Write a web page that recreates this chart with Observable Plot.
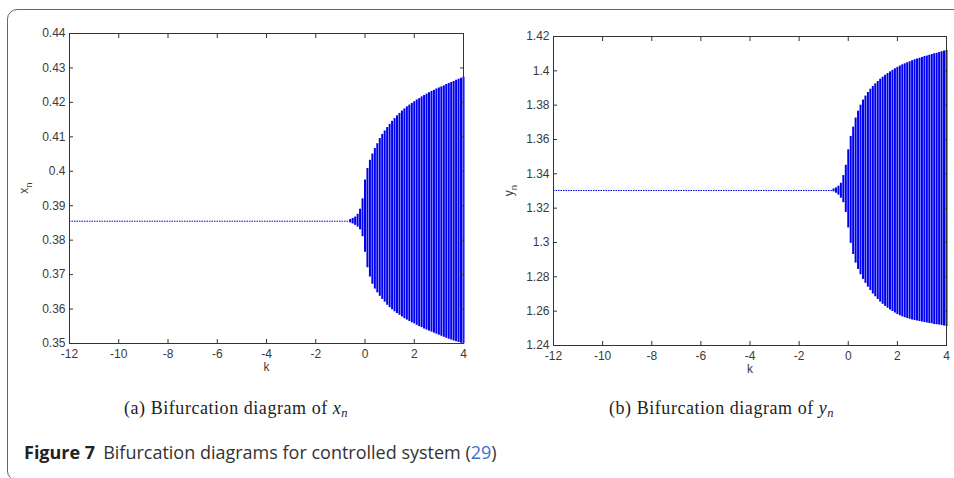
<!DOCTYPE html>
<html>
<head>
<meta charset="utf-8">
<script src="https://cdn.jsdelivr.net/npm/d3@7"></script>
<script src="https://cdn.jsdelivr.net/npm/@observablehq/plot@0.6"></script>
<style>
  html, body { margin: 0; padding: 0; background: #fff; }
  body { width: 954px; height: 478px; position: relative; overflow: hidden; }
  #frame { position: absolute; left: 7px; top: 9px; width: 980px; height: 472px;
           border: 1.5px solid #666; border-radius: 10px; box-sizing: border-box; }
  #left, #right { position: absolute; top: 0; }
  #left { left: 0; }
  #right { left: 477px; }
  #captions { position: absolute; left: 0; top: 0; }
</style>
</head>
<body>
<div id="frame"></div>
<div id="left"></div>
<div id="right"></div>
<svg id="captions" width="954" height="478">
  <text x="124" y="414" font-family="'Liberation Serif', 'DejaVu Serif', serif" font-size="18" letter-spacing="0.55" fill="#222">(a) Bifurcation diagram of <tspan font-style="italic">x</tspan><tspan font-style="italic" font-size="12.5" dy="3">n</tspan></text>
  <text x="609" y="414" font-family="'Liberation Serif', 'DejaVu Serif', serif" font-size="18" letter-spacing="0.55" fill="#222">(b) Bifurcation diagram of <tspan font-style="italic">y</tspan><tspan font-style="italic" font-size="12.5" dy="3">n</tspan></text>
  <text x="24" y="459" font-family="'Open Sans', 'Liberation Sans', sans-serif" font-size="18" fill="#333"><tspan font-weight="700" fill="#222">Figure 7</tspan><tspan dx="8">Bifurcation diagrams for controlled system (</tspan><tspan fill="#3a6fd8">29</tspan><tspan>)</tspan></text>
</svg>
<script>
// parameter k (sampling of the bifurcation sweep, as read from the stripes)
const kValues = [-0.6,-0.5,-0.4,-0.3,-0.2,-0.1,0.0,0.1,0.2,0.3,0.4,0.5,0.6,0.7,0.8,0.9,1.0,1.1,1.2,1.3,1.4,1.5,1.6,1.7,1.8,1.9,2.0,2.1,2.2,2.3,2.4,2.5,2.6,2.7,2.8,2.9,3.0,3.1,3.2,3.3,3.4,3.5,3.6,3.7,3.8,3.9,4.0];

// x_n envelope
const xUpper = [0.3860,0.3863,0.3867,0.3875,0.3890,0.3920,0.3975,0.4008,0.4032,0.4050,0.4066,0.4080,0.4095,0.4107,0.4117,0.4127,0.4136,0.4145,0.4153,0.4161,0.4168,0.4175,0.4181,0.4187,0.4192,0.4197,0.4202,0.4207,0.4211,0.4216,0.4220,0.4224,0.4228,0.4232,0.4235,0.4239,0.4242,0.4245,0.4248,0.4252,0.4255,0.4258,0.4261,0.4264,0.4267,0.4270,0.4273];
const xLower = [0.3850,0.3847,0.3843,0.3838,0.3830,0.3810,0.3765,0.3720,0.3693,0.3672,0.3658,0.3647,0.3637,0.3628,0.3620,0.3611,0.3604,0.3598,0.3592,0.3587,0.3582,0.3577,0.3572,0.3568,0.3564,0.3560,0.3557,0.3553,0.3549,0.3546,0.3542,0.3539,0.3536,0.3533,0.3530,0.3527,0.3524,0.3521,0.3518,0.3515,0.3512,0.3510,0.3507,0.3505,0.3503,0.3501,0.3499];
const xFixed = 0.3855;

// y_n envelope
const yUpper = [1.3312,1.3318,1.3328,1.3345,1.3390,1.3450,1.3540,1.3618,1.3672,1.3725,1.3765,1.3800,1.3830,1.3853,1.3874,1.3893,1.3909,1.3924,1.3938,1.3951,1.3963,1.3974,1.3984,1.3994,1.4003,1.4012,1.4020,1.4028,1.4035,1.4041,1.4047,1.4053,1.4059,1.4064,1.4069,1.4074,1.4078,1.4083,1.4087,1.4091,1.4095,1.4099,1.4103,1.4107,1.4111,1.4115,1.4118];
const yLower = [1.3295,1.3287,1.3276,1.3258,1.3232,1.3175,1.3085,1.2995,1.2930,1.2880,1.2843,1.2812,1.2785,1.2762,1.2740,1.2720,1.2700,1.2684,1.2668,1.2653,1.2640,1.2628,1.2617,1.2607,1.2598,1.2589,1.2580,1.2573,1.2567,1.2562,1.2557,1.2553,1.2549,1.2546,1.2543,1.2540,1.2537,1.2534,1.2531,1.2528,1.2526,1.2523,1.2521,1.2519,1.2516,1.2514,1.2511];
const yFixed = 1.3303;

// tick labels
const kTicks = [-12,-10,-8,-6,-4,-2,0,2,4];
const xTicks = [0.35,0.36,0.37,0.38,0.39,0.40,0.41,0.42,0.43,0.44];
const yTicks = [1.24,1.26,1.28,1.30,1.32,1.34,1.36,1.38,1.40,1.42];

const kDomain = [-12, 4];
const xDomain = [0.35, 0.44];
const yDomain = [1.24, 1.42];

const BLUE = "#0000f0";
const FONT = "'Liberation Sans', Arial, sans-serif";
const fmt = d => String(+d.toFixed(2));
const none = () => "";

function panel(lo, hi, fixed, vTicks, vDomain, m, labelChar, labelX) {
  const rows = kValues.map((k, i) => ({k, lo: lo[i], hi: hi[i]}));
  const chart = Plot.plot({
    width: 477,
    height: 390,
    marginLeft: m.left,
    marginRight: m.right,
    marginTop: m.top,
    marginBottom: m.bottom,
    style: {fontFamily: FONT, fontSize: "12px", color: "#3a3a3a", background: "transparent", overflow: "visible"},
    x: {domain: kDomain},
    y: {domain: vDomain},
    marks: [
      Plot.ruleY([fixed], {y: d => d, x1: kDomain[0], x2: kValues[0], stroke: BLUE, strokeWidth: 1, strokeDasharray: "1.5,1"}),
      Plot.ruleX(rows, {x: "k", y1: "lo", y2: "hi", stroke: BLUE, strokeWidth: 2}),
      Plot.frame({stroke: "#333", strokeWidth: 1}),
      Plot.axisX({anchor: "bottom", ticks: kTicks, tickSize: -4, tickPadding: 10, tickFormat: fmt, label: null, stroke: "#333", fontSize: 12}),
      Plot.axisX({anchor: "top", ticks: kTicks, tickSize: -4, tickFormat: none, label: null, stroke: "#333"}),
      Plot.axisY({anchor: "left", ticks: vTicks, tickSize: -4, tickPadding: 8, tickFormat: fmt, label: null, stroke: "#333", fontSize: 12}),
      Plot.axisY({anchor: "right", ticks: vTicks, tickSize: -4, tickFormat: none, label: null, stroke: "#333"}),
      Plot.text(["k"], {frameAnchor: "bottom", dy: 27, fill: "#3a3a3a", fontSize: 12})
    ]
  });
  const svg = d3.select(chart);
  const cy = (m.top + 390 - m.bottom) / 2;
  const t = svg.append("text")
    .attr("transform", `translate(${labelX},${cy}) rotate(-90)`)
    .attr("text-anchor", "middle")
    .attr("fill", "#3a3a3a")
    .attr("font-size", 12)
    .attr("font-family", FONT);
  t.append("tspan").text(labelChar);
  t.append("tspan").attr("dy", 4).attr("font-size", 9.5).text("n");
  return chart;
}

document.getElementById("left").append(
  panel(xLower, xUpper, xFixed, xTicks, xDomain, {left: 69, right: 14, top: 33, bottom: 47}, "x", 28)
);
document.getElementById("right").append(
  panel(yLower, yUpper, yFixed, yTicks, yDomain, {left: 76, right: 8, top: 36, bottom: 45}, "y", 36)
);
</script>
</body>
</html>
